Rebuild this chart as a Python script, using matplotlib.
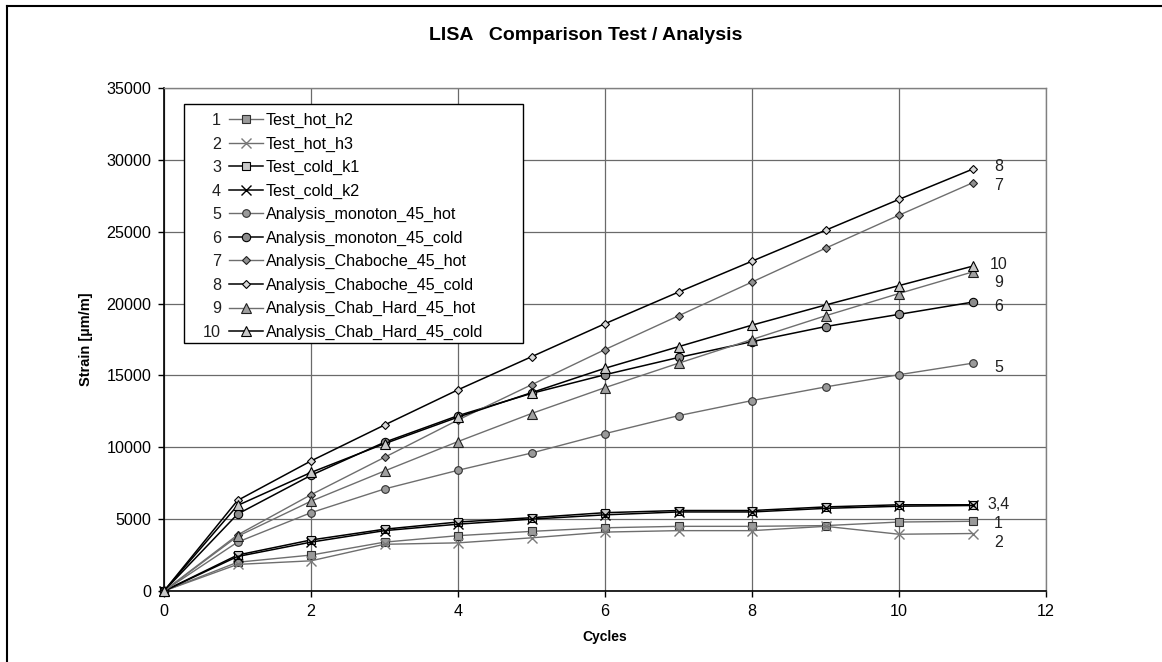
import matplotlib
matplotlib.use("Agg")
import matplotlib.pyplot as plt
from matplotlib.legend_handler import HandlerLine2D
from matplotlib.text import Text
from matplotlib.patches import Rectangle
from matplotlib.lines import Line2D
import numpy as np

plt.rcParams['font.family'] = ['Liberation Sans', 'DejaVu Sans']

cycles = [0, 1, 2, 3, 4, 5, 6, 7, 8, 9, 10, 11]

test_hot_h2 = [0, 2000, 2500, 3400, 3850, 4150, 4400, 4500, 4500, 4550, 4800, 4850]
test_hot_h3 = [0, 1850, 2100, 3250, 3350, 3700, 4100, 4200, 4200, 4500, 3950, 4000]
test_cold_k1 = [0, 2500, 3550, 4300, 4800, 5100, 5450, 5600, 5600, 5850, 6000, 6000]
test_cold_k2 = [0, 2400, 3400, 4200, 4650, 5000, 5300, 5500, 5500, 5750, 5900, 5950]
mono_hot = [0, 3400, 5450, 7100, 8400, 9600, 10950, 12200, 13250, 14200, 15050, 15850]
mono_cold = [0, 5350, 8050, 10350, 12200, 13750, 15050, 16250, 17350, 18400, 19250, 20100]
chab_hot = [0, 3900, 6700, 9300, 11900, 14350, 16800, 19150, 21500, 23850, 26150, 28400]
chab_cold = [0, 6300, 9050, 11550, 14000, 16300, 18600, 20800, 22950, 25100, 27250, 29350]
chabhard_hot = [0, 3800, 6250, 8350, 10400, 12350, 14150, 15850, 17500, 19150, 20700, 22200]
chabhard_cold = [0, 5950, 8250, 10250, 12100, 13800, 15500, 17000, 18500, 19900, 21250, 22600]

labels = ["Test_hot_h2", "Test_hot_h3", "Test_cold_k1", "Test_cold_k2",
          "Analysis_monoton_45_hot", "Analysis_monoton_45_cold",
          "Analysis_Chaboche_45_hot", "Analysis_Chaboche_45_cold",
          "Analysis_Chab_Hard_45_hot", "Analysis_Chab_Hard_45_cold"]
numbers = ["1", "2", "3", "4", "5", "6", "7", "8", "9", "10"]
series = [test_hot_h2, test_hot_h3, test_cold_k1, test_cold_k2, mono_hot, mono_cold,
          chab_hot, chab_cold, chabhard_hot, chabhard_cold]

end_labels = ["8", "7", "10", "9", "6", "5", "3,4", "1", "2"]
end_label_series = [7, 6, 9, 8, 5, 4, 2, 0, 1]
end_label_dy = [2.5, -3, 1.5, -11, -4, -4, 0, -2.5, -9]

GRAY = "#6e6e6e"
styles = [
    dict(color=GRAY, lw=1.0, marker='s', ms=5.5, mfc='#9a9a9a', mec='#303030', mew=0.8),
    dict(color=GRAY, lw=1.0, marker='x', ms=6.5, mec='#7a7a7a', mew=1.0),
    dict(color='black', lw=1.1, marker='s', ms=5.5, mfc='#c8c8c8', mec='black', mew=0.8),
    dict(color='black', lw=1.1, marker='x', ms=6.5, mec='black', mew=1.0),
    dict(color=GRAY, lw=1.0, marker='o', ms=5.5, mfc='#9a9a9a', mec='#303030', mew=0.8),
    dict(color='black', lw=1.1, marker='o', ms=6, mfc='#8c8c8c', mec='black', mew=0.8),
    dict(color=GRAY, lw=1.0, marker='D', ms=4.2, mfc='#909090', mec='#202020', mew=0.8),
    dict(color='black', lw=1.1, marker='D', ms=4.2, mfc='#d8d8d8', mec='black', mew=0.8),
    dict(color=GRAY, lw=1.0, marker='^', ms=6.5, mfc='#a0a0a0', mec='#202020', mew=0.8),
    dict(color='black', lw=1.1, marker='^', ms=6.5, mfc='#c8c8c8', mec='black', mew=0.8),
]

W, H = 1162, 662
fig = plt.figure(figsize=(W / 100, H / 100), dpi=100)
ax = fig.add_axes([164 / W, 1 - 591 / H, (1046 - 164) / W, (591 - 88) / H])

lines = []
for ys, st, lab in zip(series, styles, labels):
    ln, = ax.plot(cycles, ys, label=lab, clip_on=False, zorder=3, **st)
    lines.append(ln)

ax.set_xlim(0, 12)
ax.set_ylim(0, 35000)
ax.set_xticks(np.arange(0, 13, 2))
ax.set_yticks(np.arange(0, 35001, 5000))
ax.grid(True, color='#6a6a6a', lw=0.9, zorder=0)
ax.set_axisbelow(True)
for s in ['top', 'right']:
    ax.spines[s].set_color('#808080')
    ax.spines[s].set_linewidth(1.0)
for s in ['left', 'bottom']:
    ax.spines[s].set_color('black')
    ax.spines[s].set_linewidth(1.2)
ax.tick_params(direction='out', length=4.5, width=1, labelsize=11.6, pad=4.5)

ax.set_xlabel("Cycles", fontsize=10, fontweight='bold', labelpad=8)
ax.set_ylabel("Strain [µm/m]", fontsize=10.5, fontweight='bold', labelpad=10)
fig.text(586 / W, 1 - 35 / H, "LISA   Comparison Test / Analysis", fontsize=14,
         fontweight='bold', ha='center', va='center')

# end-of-series labels
for txt, si, dy in zip(end_labels, end_label_series, end_label_dy):
    ax.annotate(txt, xy=(cycles[-1], series[si][-1]), xytext=(26, dy),
                textcoords='offset pixels', ha='center', va='center', fontsize=11.5,
                color='#202020', annotation_clip=False)


class NumHandler(HandlerLine2D):
    def __init__(self, num, numw, linex, **kw):
        super().__init__(**kw)
        self.num = num
        self.numw = numw
        self.linex = linex

    def create_artists(self, legend, orig_handle, xdescent, ydescent, width, height,
                       fontsize, trans):
        arts = super().create_artists(legend, orig_handle, xdescent - self.linex, ydescent,
                                      width - self.linex, height, fontsize, trans)
        t = Text(self.numw - xdescent, (height - ydescent) / 2 - 1.0, self.num, ha='right',
                 va='center', fontsize=fontsize, color='#202020', transform=trans)
        return list(arts) + [t]


px = 0.72
fs = 11.6
hmap = {ln: NumHandler(n, 18 * px, 26 * px, numpoints=1) for ln, n in zip(lines, numbers)}
rect = Rectangle(((184 - 164) / 882, (591 - 343) / 503), (523 - 184) / 882, (343 - 104) / 503,
                 transform=ax.transAxes, facecolor='white', edgecolor='black', lw=1.0,
                 zorder=9, clip_on=False)
ax.add_patch(rect)
leg = ax.legend(handles=lines, handler_map=hmap, loc='upper left',
                bbox_to_anchor=((203 - 164) / 882, (591 - 113) / 503), frameon=False,
                borderpad=0, borderaxespad=0, fontsize=fs, handlelength=60 * px / fs,
                handletextpad=3 * px / fs, labelspacing=0.52)
leg.set_zorder(10)

fig.add_artist(Line2D([7 / W, 7 / W], [0, 1 - 6 / H], color='black', lw=1.5))
fig.add_artist(Line2D([7 / W, 1], [1 - 6 / H, 1 - 6 / H], color='black', lw=1.5))

fig.savefig("out.png", dpi=100, facecolor='white')
